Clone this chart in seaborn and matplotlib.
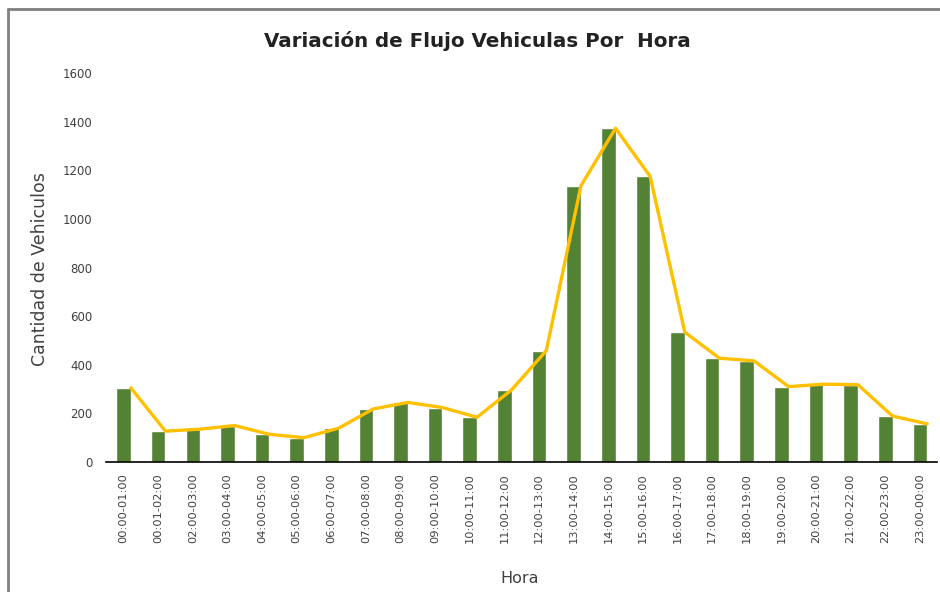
import numpy as np
import pandas as pd
import seaborn as sns
import matplotlib.pyplot as plt
from matplotlib.lines import Line2D

# vehicle counts per hour slot
horas = ["00:00-01:00", "00:01-02:00", "02:00-03:00", "03:00-04:00", "04:00-05:00",
         "05:00-06:00", "06:00-07:00", "07:00-08:00", "08:00-09:00", "09:00-10:00",
         "10:00-11:00", "11:00-12:00", "12:00-13:00", "13:00-14:00", "14:00-15:00",
         "15:00-16:00", "16:00-17:00", "17:00-18:00", "18:00-19:00", "19:00-20:00",
         "20:00-21:00", "21:00-22:00", "22:00-23:00", "23:00-00:00"]
vehiculos = [305, 127, 135, 150, 114, 100, 139, 218, 245, 224,
             184, 297, 458, 1136, 1373, 1175, 534, 427, 416, 310,
             320, 318, 189, 157]

df = pd.DataFrame({"Hora": horas, "Vehiculos": vehiculos})

sns.set_style("white")
plt.rcParams["font.family"] = ["DejaVu Sans"]

fig = plt.figure(figsize=(9.4, 5.92), dpi=100)
ax = fig.add_axes([0.113, 0.2196, 0.884, 0.657])

bar_w = 0.42
sns.barplot(data=df, x="Hora", y="Vehiculos", color="#548235", width=bar_w,
            saturation=1, ax=ax, zorder=2)
# the line in the original is drawn through the top-right corner of each bar
xs = np.arange(len(horas)) + bar_w / 2
ax.plot(xs, df["Vehiculos"], color="#FFC000", lw=2.4, zorder=3,
        solid_joinstyle="round")

ax.set_ylim(0, 1600)
ax.set_xlim(-0.5, len(horas) - 0.5)
ax.set_yticks(range(0, 1601, 200))
ax.tick_params(axis="y", labelsize=8.5, colors="#404040", length=0, pad=10)
ax.tick_params(axis="x", labelsize=8.2, colors="#404040", length=0, pad=8)
ax.set_xticks(range(len(horas)))
ax.set_xticklabels(horas, rotation=90)

for s in ["top", "right", "left"]:
    ax.spines[s].set_visible(False)
ax.spines["bottom"].set_color("black")
ax.spines["bottom"].set_linewidth(1.2)

ax.set_xlabel("")
ax.set_ylabel("")
fig.text(0.553, 0.01, "Hora", ha="center", va="bottom", fontsize=11.5, color="#404040")
fig.text(0.043, 0.545, "Cantidad de Vehiculos", ha="center", va="center",
         rotation=90, fontsize=12.5, color="#404040")
fig.text(0.508, 0.93, "Variación de Flujo Vehiculas Por  Hora", ha="center",
         va="center", fontsize=14.3, fontweight="bold", color="#222222")

# chart frame (gray border at top and left)
fig.add_artist(Line2D([0.009, 1.0], [0.985, 0.985], color="#808080", lw=2,
                      transform=fig.transFigure))
fig.add_artist(Line2D([0.009, 0.009], [0.0, 0.985], color="#808080", lw=2,
                      transform=fig.transFigure))

fig.savefig("out.png", dpi=100)
